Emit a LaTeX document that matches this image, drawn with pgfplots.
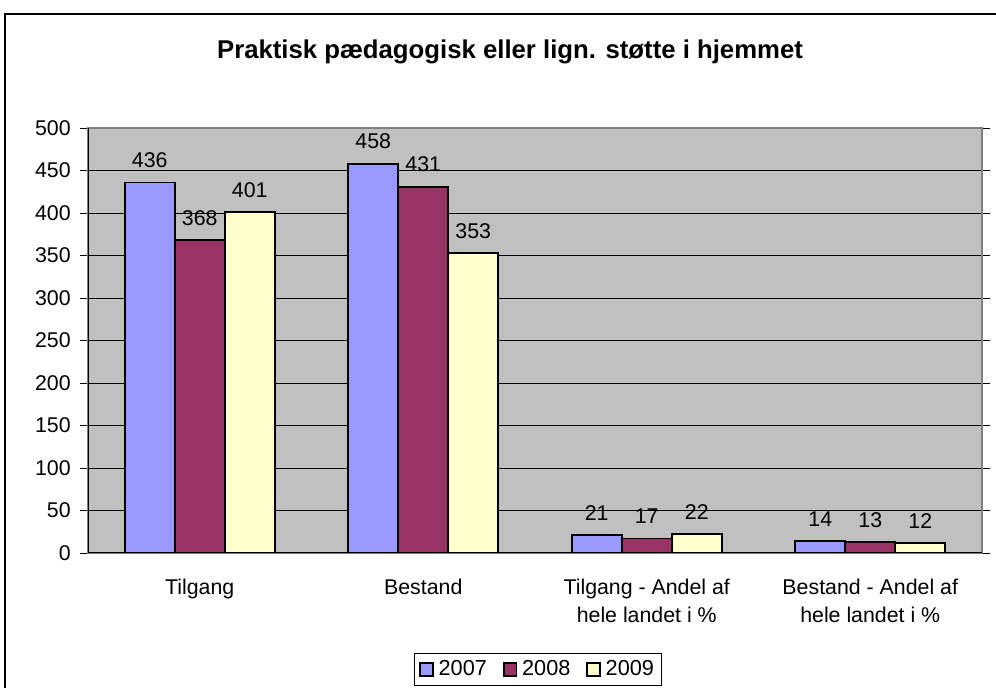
\documentclass[border=0pt]{standalone}
\usepackage{pgfplots}
\pgfplotsset{compat=1.18}
\usepackage{fontspec}
\setmainfont{Liberation Sans}
\definecolor{c07}{HTML}{9999FF}
\definecolor{c08}{HTML}{993366}
\definecolor{c09}{HTML}{FFFFCC}
\definecolor{plotbg}{HTML}{C0C0C0}
\begin{document}
\begin{tikzpicture}
\path[use as bounding box] (0,0) rectangle (747pt,516pt);
\draw[line width=0.9pt] (3.75pt,-5pt) rectangle (752pt,505.5pt);
\node[font=\bfseries\fontsize{19.3}{23}\selectfont] at (382.5pt,477pt) {Praktisk pædagogisk eller lign. støtte i hjemmet};
\begin{axis}[
  at={(66pt,101.25pt)}, anchor=south west,
  scale only axis, width=670.5pt, height=318.75pt,
  ybar=0pt, bar width=37.5pt,
  xmin=0.5, xmax=4.5, ymin=0, ymax=500,
  ytick={0,50,...,500},
  xtick={1,2,3,4},
  xticklabels={Tilgang,Bestand,{Tilgang - Andel af\\hele landet i \%},{Bestand - Andel af\\hele landet i \%}},
  x tick style={draw=none},
  extra x ticks={0.5,1.5,2.5,3.5,4.5},
  extra x tick labels={},
  extra x tick style={major tick length=6pt, tick align=outside, tick style={draw=black, line width=0.6pt}},
  ytick style={draw=black, line width=0.6pt},
  major tick length=6pt, tick align=outside,
  ymajorgrids, grid style={black, line width=0.6pt},
  axis background/.style={fill=plotbg},
  axis line style={draw=gray, line width=0.8pt},
  /pgf/number format/assume math mode=true,
  ticklabel style={font=\fontsize{16}{21}\selectfont},
  xticklabel style={align=center, yshift=-10pt},
  yticklabel style={xshift=-3.5pt},
  nodes near coords,
  every node near coord/.append style={font=\fontsize{16}{19}\selectfont, yshift=7pt, black},
  legend style={at={(0.5034,-0.2353)}, anchor=north, legend columns=3, draw=black, line width=0.6pt,
    font=\fontsize{16.3}{19}\selectfont, inner sep=3.5pt,
    /tikz/every odd column/.append style={column sep=1.5pt},
    /tikz/every even column/.append style={column sep=10pt}},
  legend image code/.code={\draw[#1, line width=1.3pt, draw=black] (0pt,-4.8pt) rectangle (9.6pt,4.8pt);},
]
\addplot[fill=c07, draw=black, line width=1.3pt] coordinates {(1,436) (2,458) (3,21) (4,14)};
\addplot[fill=c08, draw=black, line width=1.3pt] coordinates {(1,368) (2,431) (3,17) (4,13)};
\addplot[fill=c09, draw=black, line width=1.3pt] coordinates {(1,401) (2,353) (3,22) (4,12)};
\legend{2007,2008,2009}
\draw[black, line width=0.8pt] (rel axis cs:0,0) -- (rel axis cs:0,1);
\draw[black, line width=0.8pt] (rel axis cs:0,0) -- (rel axis cs:1,0);
\end{axis}
\end{tikzpicture}
\end{document}
